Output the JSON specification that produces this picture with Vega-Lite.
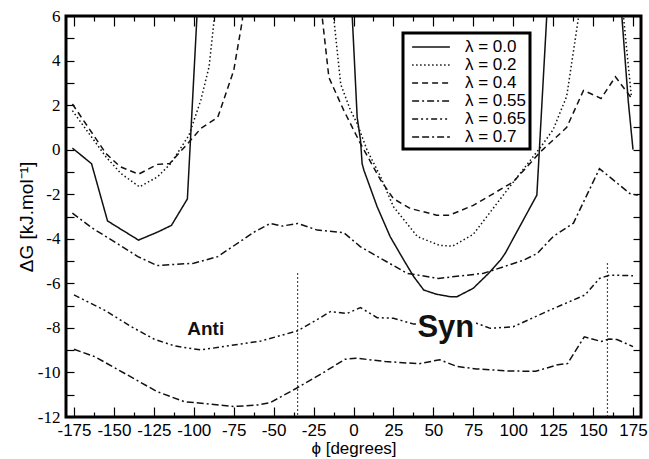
{
  "$schema": "https://vega.github.io/schema/vega-lite/v6.json",
  "width": 575,
  "height": 401,
  "autosize": "none",
  "padding": {"left": 66, "top": 16, "right": 8, "bottom": 42},
  "background": "white",
  "config": {
    "view": {"stroke": "black", "strokeWidth": 3},
    "axis": {"domain": false, "grid": false, "tickColor": "black", "tickWidth": 1.2, "labelColor": "black", "titleColor": "black"},
    "legend": {
      "orient": "none", "legendX": 337, "legendY": 17,
      "strokeColor": "black", "strokeWidth": 3, "fillColor": "white",
      "padding": 4, "symbolType": "M-2.1,0H2.1", "symbolSize": 324, "symbolStrokeWidth": 1.5,
      "symbolOffset": 14,
      "symbolStrokeColor": "#111", "labelFont": "Liberation Sans", "labelFontSize": 17,
      "labelColor": "black", "labelOffset": 24, "rowPadding": 0
    }
  },
  "datasets": {
    "curves": [
      {"lam":"λ = 0.0","phi":-176,"dG":0.07},{"lam":"λ = 0.0","phi":-164,"dG":-0.63},{"lam":"λ = 0.0","phi":-154,"dG":-3.2},{"lam":"λ = 0.0","phi":-134.6,"dG":-4.06},{"lam":"λ = 0.0","phi":-122.7,"dG":-3.7},{"lam":"λ = 0.0","phi":-114,"dG":-3.4},{"lam":"λ = 0.0","phi":-104,"dG":-2.21},{"lam":"λ = 0.0","phi":-98,"dG":6.0},{"lam":"λ = 0.0","phi":-97.5,"dG":6.6},{"lam":"λ = 0.0","phi":-1.5,"dG":6.6},{"lam":"λ = 0.0","phi":-0.8,"dG":6.0},{"lam":"λ = 0.0","phi":2.3,"dG":1.45},{"lam":"λ = 0.0","phi":4.4,"dG":0.42},{"lam":"λ = 0.0","phi":5.4,"dG":-0.63},{"lam":"λ = 0.0","phi":6.5,"dG":-0.92},{"lam":"λ = 0.0","phi":14.8,"dG":-2.56},{"lam":"λ = 0.0","phi":23,"dG":-3.91},{"lam":"λ = 0.0","phi":31.5,"dG":-4.96},{"lam":"λ = 0.0","phi":37.7,"dG":-5.7},{"lam":"λ = 0.0","phi":44,"dG":-6.3},{"lam":"λ = 0.0","phi":52,"dG":-6.49},{"lam":"λ = 0.0","phi":60.6,"dG":-6.6},{"lam":"λ = 0.0","phi":64.8,"dG":-6.6},{"lam":"λ = 0.0","phi":75,"dG":-6.22},{"lam":"λ = 0.0","phi":84.6,"dG":-5.55},{"lam":"λ = 0.0","phi":92,"dG":-4.96},{"lam":"λ = 0.0","phi":95,"dG":-4.65},{"lam":"λ = 0.0","phi":104,"dG":-3.46},{"lam":"λ = 0.0","phi":114.8,"dG":-2.04},{"lam":"λ = 0.0","phi":121,"dG":6.0},{"lam":"λ = 0.0","phi":121.5,"dG":6.6},{"lam":"λ = 0.0","phi":167.5,"dG":6.6},{"lam":"λ = 0.0","phi":168,"dG":6.0},{"lam":"λ = 0.0","phi":172,"dG":2.2},{"lam":"λ = 0.0","phi":175,"dG":0.0},

      {"lam":"λ = 0.2","phi":-176,"dG":1.75},{"lam":"λ = 0.2","phi":-155,"dG":-0.32},{"lam":"λ = 0.2","phi":-145.6,"dG":-1.07},{"lam":"λ = 0.2","phi":-134,"dG":-1.67},{"lam":"λ = 0.2","phi":-122.7,"dG":-1.22},{"lam":"λ = 0.2","phi":-114.4,"dG":-0.62},{"lam":"λ = 0.2","phi":-103,"dG":0.65},{"lam":"λ = 0.2","phi":-95.6,"dG":2.22},{"lam":"λ = 0.2","phi":-90.4,"dG":3.73},{"lam":"λ = 0.2","phi":-87,"dG":6.0},{"lam":"λ = 0.2","phi":-86.5,"dG":6.6},{"lam":"λ = 0.2","phi":-13,"dG":6.6},{"lam":"λ = 0.2","phi":-12.5,"dG":6.0},{"lam":"λ = 0.2","phi":-8,"dG":2.94},{"lam":"λ = 0.2","phi":-1.9,"dG":1.77},{"lam":"λ = 0.2","phi":2.3,"dG":1.17},{"lam":"λ = 0.2","phi":8.5,"dG":-0.02},{"lam":"λ = 0.2","phi":17,"dG":-1.22},{"lam":"λ = 0.2","phi":25,"dG":-2.56},{"lam":"λ = 0.2","phi":40,"dG":-3.9},{"lam":"λ = 0.2","phi":54,"dG":-4.3},{"lam":"λ = 0.2","phi":62,"dG":-4.33},{"lam":"λ = 0.2","phi":75,"dG":-3.8},{"lam":"λ = 0.2","phi":96,"dG":-1.83},{"lam":"λ = 0.2","phi":117,"dG":0.1},{"lam":"λ = 0.2","phi":125,"dG":0.9},{"lam":"λ = 0.2","phi":133.5,"dG":2.4},{"lam":"λ = 0.2","phi":141,"dG":6.0},{"lam":"λ = 0.2","phi":141.5,"dG":6.6},{"lam":"λ = 0.2","phi":168.5,"dG":6.6},{"lam":"λ = 0.2","phi":169,"dG":6.0},{"lam":"λ = 0.2","phi":174,"dG":2.37},

      {"lam":"λ = 0.4","phi":-176,"dG":2.05},{"lam":"λ = 0.4","phi":-155,"dG":-0.17},{"lam":"λ = 0.4","phi":-146,"dG":-0.77},{"lam":"λ = 0.4","phi":-134.6,"dG":-1.1},{"lam":"λ = 0.4","phi":-122.7,"dG":-0.66},{"lam":"λ = 0.4","phi":-115,"dG":-0.62},{"lam":"λ = 0.4","phi":-101.9,"dG":0.43},{"lam":"λ = 0.4","phi":-95.6,"dG":0.95},{"lam":"λ = 0.4","phi":-85,"dG":1.45},{"lam":"λ = 0.4","phi":-75,"dG":3.55},{"lam":"λ = 0.4","phi":-69.6,"dG":5.8},{"lam":"λ = 0.4","phi":-69,"dG":6.6},{"lam":"λ = 0.4","phi":-21.5,"dG":6.6},{"lam":"λ = 0.4","phi":-19.6,"dG":5.95},{"lam":"λ = 0.4","phi":-15.4,"dG":3.24},{"lam":"λ = 0.4","phi":-6,"dG":1.75},{"lam":"λ = 0.4","phi":4.4,"dG":0.27},{"lam":"λ = 0.4","phi":17,"dG":-1.37},{"lam":"λ = 0.4","phi":25,"dG":-2.2},{"lam":"λ = 0.4","phi":35.6,"dG":-2.64},{"lam":"λ = 0.4","phi":52,"dG":-2.94},{"lam":"λ = 0.4","phi":60,"dG":-2.94},{"lam":"λ = 0.4","phi":75,"dG":-2.5},{"lam":"λ = 0.4","phi":100,"dG":-1.45},{"lam":"λ = 0.4","phi":117,"dG":-0.1},{"lam":"λ = 0.4","phi":133.5,"dG":1.0},{"lam":"λ = 0.4","phi":144,"dG":2.66},{"lam":"λ = 0.4","phi":155,"dG":2.3},{"lam":"λ = 0.4","phi":164,"dG":3.27},{"lam":"λ = 0.4","phi":175,"dG":2.22},

      {"lam":"λ = 0.55","phi":-176,"dG":-2.85},{"lam":"λ = 0.55","phi":-164,"dG":-3.5},{"lam":"λ = 0.55","phi":-146,"dG":-4.3},{"lam":"λ = 0.55","phi":-135,"dG":-4.8},{"lam":"λ = 0.55","phi":-123,"dG":-5.2},{"lam":"λ = 0.55","phi":-100,"dG":-5.1},{"lam":"λ = 0.55","phi":-85,"dG":-4.8},{"lam":"λ = 0.55","phi":-62,"dG":-3.69},{"lam":"λ = 0.55","phi":-52,"dG":-3.31},{"lam":"λ = 0.55","phi":-44.6,"dG":-3.43},{"lam":"λ = 0.55","phi":-35,"dG":-3.31},{"lam":"λ = 0.55","phi":-22.7,"dG":-3.61},{"lam":"λ = 0.55","phi":-6,"dG":-3.73},{"lam":"λ = 0.55","phi":4.4,"dG":-4.36},{"lam":"λ = 0.55","phi":33.5,"dG":-5.55},{"lam":"λ = 0.55","phi":53,"dG":-5.78},{"lam":"λ = 0.55","phi":81.5,"dG":-5.55},{"lam":"λ = 0.55","phi":106.5,"dG":-4.96},{"lam":"λ = 0.55","phi":115,"dG":-4.66},{"lam":"λ = 0.55","phi":125,"dG":-3.9},{"lam":"λ = 0.55","phi":137.7,"dG":-3.3},{"lam":"λ = 0.55","phi":154,"dG":-0.85},{"lam":"λ = 0.55","phi":173,"dG":-1.97},{"lam":"λ = 0.55","phi":178,"dG":-2.05},

      {"lam":"λ = 0.65","phi":-175,"dG":-6.52},{"lam":"λ = 0.65","phi":-156,"dG":-7.2},{"lam":"λ = 0.65","phi":-139,"dG":-7.95},{"lam":"λ = 0.65","phi":-125,"dG":-8.5},{"lam":"λ = 0.65","phi":-112,"dG":-8.81},{"lam":"λ = 0.65","phi":-95.6,"dG":-8.99},{"lam":"λ = 0.65","phi":-75,"dG":-8.77},{"lam":"λ = 0.65","phi":-58,"dG":-8.59},{"lam":"λ = 0.65","phi":-48,"dG":-8.39},{"lam":"λ = 0.65","phi":-35,"dG":-8.13},{"lam":"λ = 0.65","phi":-25,"dG":-7.72},{"lam":"λ = 0.65","phi":-14.4,"dG":-7.27},{"lam":"λ = 0.65","phi":-4,"dG":-7.35},{"lam":"λ = 0.65","phi":4.4,"dG":-7.09},{"lam":"λ = 0.65","phi":14.8,"dG":-7.54},{"lam":"λ = 0.65","phi":25,"dG":-7.57},{"lam":"λ = 0.65","phi":37.7,"dG":-7.83},{"lam":"λ = 0.65","phi":77,"dG":-7.79},{"lam":"λ = 0.65","phi":85.6,"dG":-8.02},{"lam":"λ = 0.65","phi":100,"dG":-7.95},{"lam":"λ = 0.65","phi":123,"dG":-7.2},{"lam":"λ = 0.65","phi":145,"dG":-6.52},{"lam":"λ = 0.65","phi":154,"dG":-5.78},{"lam":"λ = 0.65","phi":160.6,"dG":-5.63},{"lam":"λ = 0.65","phi":175,"dG":-5.66},

      {"lam":"λ = 0.7","phi":-175,"dG":-8.96},{"lam":"λ = 0.7","phi":-162,"dG":-9.29},{"lam":"λ = 0.7","phi":-141.6,"dG":-10.11},{"lam":"λ = 0.7","phi":-123,"dG":-10.86},{"lam":"λ = 0.7","phi":-106,"dG":-11.31},{"lam":"λ = 0.7","phi":-89,"dG":-11.43},{"lam":"λ = 0.7","phi":-75,"dG":-11.53},{"lam":"λ = 0.7","phi":-60,"dG":-11.46},{"lam":"λ = 0.7","phi":-52,"dG":-11.35},{"lam":"λ = 0.7","phi":-35.7,"dG":-10.71},{"lam":"λ = 0.7","phi":-19.4,"dG":-10.03},{"lam":"λ = 0.7","phi":-5.4,"dG":-9.41},{"lam":"λ = 0.7","phi":1.6,"dG":-9.36},{"lam":"λ = 0.7","phi":20,"dG":-9.51},{"lam":"λ = 0.7","phi":41,"dG":-9.61},{"lam":"λ = 0.7","phi":54,"dG":-9.43},{"lam":"λ = 0.7","phi":64.6,"dG":-9.73},{"lam":"λ = 0.7","phi":77,"dG":-9.84},{"lam":"λ = 0.7","phi":96,"dG":-9.93},{"lam":"λ = 0.7","phi":114,"dG":-9.95},{"lam":"λ = 0.7","phi":128,"dG":-9.65},{"lam":"λ = 0.7","phi":134,"dG":-9.6},{"lam":"λ = 0.7","phi":144.5,"dG":-8.4},{"lam":"λ = 0.7","phi":155,"dG":-8.61},{"lam":"λ = 0.7","phi":160,"dG":-8.5},{"lam":"λ = 0.7","phi":165,"dG":-8.52},{"lam":"λ = 0.7","phi":175,"dG":-8.84}
    ],
    "rules": [
      {"phi": -35, "top": -5.55, "bottom": -12},
      {"phi": 159, "top": -5.1, "bottom": -12}
    ],
    "syn": [{"phi": 57.8, "dG": -8.39, "note": "Syn"}]
  },
  "resolve": {"axis": {"x": "independent", "y": "independent"}},
  "layer": [
    {
      "data": {"name": "curves"},
      "mark": {"type": "line", "color": "#111", "strokeWidth": 1.5, "clip": true},
      "encoding": {
        "x": {
          "field": "phi", "type": "quantitative",
          "scale": {"domain": [-180, 180], "nice": false, "zero": false},
          "axis": {
            "orient": "bottom",
            "values": [-175,-150,-125,-100,-75,-50,-25,0,25,50,75,100,125,150,175],
            "labelExpr": "'' + datum.value",
            "tickSize": -10,
            "labelFont": "Liberation Sans", "labelFontSize": 17, "labelPadding": 15,
            "labelFlush": false, "labelOverlap": false,
            "title": "ϕ [degrees]", "titleFont": "Liberation Sans", "titleFontSize": 17,
            "titleFontWeight": "normal", "titlePadding": 2
          }
        },
        "y": {
          "field": "dG", "type": "quantitative",
          "scale": {"domain": [-12, 6], "nice": false, "zero": false},
          "axis": {
            "orient": "left",
            "values": [-12,-11,-10,-9,-8,-7,-6,-5,-4,-3,-2,-1,0,1,2,3,4,5,6],
            "labelExpr": "datum.value % 2 == 0 ? '' + datum.value : ''",
            "tickSize": -8,
            "labelFont": "Liberation Serif", "labelFontSize": 17, "labelPadding": 14,
            "labelFlush": false, "labelOverlap": false,
            "title": "ΔG [kJ.mol⁻¹]", "titleFont": "Liberation Sans", "titleFontSize": 19,
            "titleFontWeight": "normal", "titlePadding": 1
          }
        },
        "strokeDash": {
          "field": "lam", "type": "nominal",
          "scale": {
            "domain": ["λ = 0.0","λ = 0.2","λ = 0.4","λ = 0.55","λ = 0.65","λ = 0.7"],
            "range": [[1,0],[1.5,2.5],[6,4],[7,3,2,3],[6,3,2,3,2,3],[7,3,7,3,2,3]]
          },
          "legend": {"title": null}
        }
      }
    },
    {
      "data": {"name": "rules"},
      "mark": {"type": "rule", "color": "#111", "strokeWidth": 1.2, "strokeDash": [1.5, 2.5]},
      "encoding": {
        "x": {
          "field": "phi", "type": "quantitative",
          "scale": {"domain": [-180, 180], "nice": false, "zero": false},
          "axis": {
            "orient": "top",
            "values": [-175,-150,-125,-100,-75,-50,-25,0,25,50,75,100,125,150,175],
            "tickSize": -10, "labels": false, "title": null
          }
        },
        "y": {
          "field": "top", "type": "quantitative",
          "scale": {"domain": [-12, 6], "nice": false, "zero": false},
          "axis": {
            "orient": "right",
            "values": [-12,-11,-10,-9,-8,-7,-6,-5,-4,-3,-2,-1,0,1,2,3,4,5,6],
            "tickSize": -8, "labels": false, "title": null
          }
        },
        "y2": {"field": "bottom"}
      }
    },
    {
      "data": {"values": [{"phi": -92.5, "dG": -8.32, "note": "Anti"}]},
      "mark": {"type": "text", "font": "Liberation Sans", "fontWeight": "bold", "fontSize": 19, "align": "center", "baseline": "alphabetic", "color": "#111"},
      "encoding": {
        "x": {
          "field": "phi", "type": "quantitative", "scale": {"domain": [-180, 180], "nice": false, "zero": false},
          "axis": {
            "orient": "bottom",
            "values": [-162.5,-137.5,-112.5,-87.5,-62.5,-37.5,-12.5,12.5,37.5,62.5,87.5,112.5,137.5,162.5],
            "tickSize": -5, "labels": false, "title": null
          }
        },
        "y": {"field": "dG", "type": "quantitative", "scale": {"domain": [-12, 6], "nice": false, "zero": false}, "axis": null},
        "text": {"field": "note"}
      }
    },
    {
      "data": {"name": "syn"},
      "mark": {"type": "text", "font": "Liberation Sans", "fontWeight": "bold", "fontSize": 31, "align": "center", "baseline": "alphabetic", "color": "white", "stroke": "white", "strokeWidth": 7},
      "encoding": {
        "x": {
          "field": "phi", "type": "quantitative", "scale": {"domain": [-180, 180], "nice": false, "zero": false},
          "axis": {
            "orient": "top",
            "values": [-162.5,-137.5,-112.5,-87.5,-62.5,-37.5,-12.5,12.5,37.5,62.5,87.5,112.5,137.5,162.5],
            "tickSize": -5, "labels": false, "title": null
          }
        },
        "y": {"field": "dG", "type": "quantitative", "scale": {"domain": [-12, 6], "nice": false, "zero": false}, "axis": null},
        "text": {"field": "note"}
      }
    },
    {
      "data": {"name": "syn"},
      "mark": {"type": "text", "font": "Liberation Sans", "fontWeight": "bold", "fontSize": 31, "align": "center", "baseline": "alphabetic", "color": "#111"},
      "encoding": {
        "x": {"field": "phi", "type": "quantitative", "scale": {"domain": [-180, 180], "nice": false, "zero": false}, "axis": null},
        "y": {"field": "dG", "type": "quantitative", "scale": {"domain": [-12, 6], "nice": false, "zero": false}, "axis": null},
        "text": {"field": "note"}
      }
    }
  ]
}
